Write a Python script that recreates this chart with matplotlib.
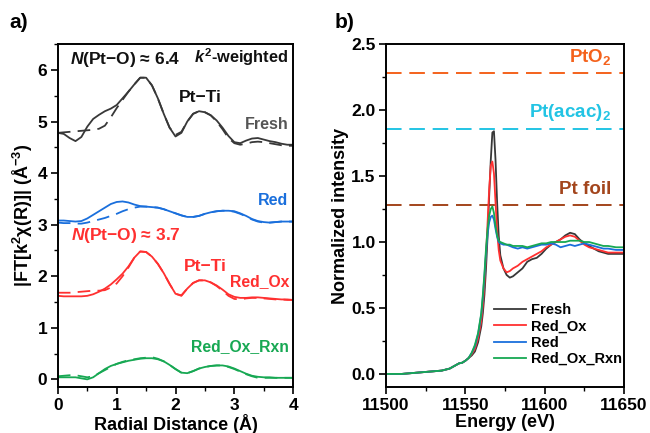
import matplotlib
matplotlib.use("Agg")
import matplotlib.pyplot as plt
from matplotlib.ticker import MultipleLocator, FormatStrFormatter

plt.rcParams['font.family'] = ['Liberation Sans', 'DejaVu Sans']
plt.rcParams['font.weight'] = 'bold'
plt.rcParams['mathtext.fontset'] = 'custom'
plt.rcParams['mathtext.rm'] = 'Liberation Sans:bold'
plt.rcParams['mathtext.it'] = 'Liberation Sans:italic:bold'
plt.rcParams['mathtext.bf'] = 'Liberation Sans:bold'

# ---- a) EXAFS, |FT| vs R (offset curves, solid = data, dashed = fit)
r = [round(0.1 * i, 1) for i in range(41)]
fresh = [4.78, 4.76, 4.68, 4.62, 4.70, 4.90, 5.05, 5.13, 5.20, 5.25,
         5.32, 5.45, 5.58, 5.72, 5.85, 5.85, 5.70, 5.45, 5.15, 4.88,
         4.71, 4.78, 5.00, 5.15, 5.20, 5.18, 5.12, 5.02, 4.88, 4.72,
         4.60, 4.58, 4.63, 4.67, 4.68, 4.65, 4.62, 4.60, 4.57, 4.55, 4.55]
fresh_fit = [4.78, 4.79, 4.80, 4.81, 4.82, 4.83, 4.84, 4.86, 4.92, 5.08,
             5.26, 5.42, 5.58, 5.72, 5.85, 5.85, 5.70, 5.45, 5.15, 4.88,
             4.74, 4.80, 5.00, 5.15, 5.20, 5.18, 5.12, 5.00, 4.85, 4.68,
             4.58, 4.55, 4.57, 4.60, 4.61, 4.60, 4.58, 4.56, 4.54, 4.53, 4.53]
red = [3.08, 3.08, 3.07, 3.06, 3.07, 3.12, 3.19, 3.26, 3.33, 3.40,
       3.44, 3.45, 3.43, 3.39, 3.36, 3.35, 3.34, 3.33, 3.30, 3.26,
       3.22, 3.18, 3.15, 3.15, 3.17, 3.21, 3.24, 3.26, 3.27, 3.27,
       3.26, 3.22, 3.17, 3.11, 3.07, 3.05, 3.04, 3.05, 3.06, 3.06, 3.06]
red_fit = [3.04, 3.03, 3.03, 3.02, 3.02, 3.04, 3.07, 3.10, 3.13, 3.17,
           3.21, 3.26, 3.30, 3.33, 3.35, 3.35, 3.34, 3.33, 3.30, 3.26,
           3.22, 3.18, 3.15, 3.15, 3.17, 3.21, 3.24, 3.26, 3.27, 3.27,
           3.25, 3.21, 3.16, 3.10, 3.06, 3.04, 3.04, 3.05, 3.06, 3.06, 3.06]
red_ox = [1.62, 1.61, 1.61, 1.61, 1.61, 1.62, 1.65, 1.70, 1.76, 1.84,
          1.94, 2.05, 2.19, 2.36, 2.48, 2.47, 2.38, 2.24, 2.06, 1.85,
          1.66, 1.62, 1.76, 1.87, 1.92, 1.92, 1.88, 1.82, 1.74, 1.65,
          1.60, 1.58, 1.58, 1.59, 1.59, 1.58, 1.57, 1.56, 1.55, 1.55, 1.54]
red_ox_fit = [1.68, 1.68, 1.68, 1.69, 1.70, 1.71, 1.72, 1.72, 1.73, 1.78,
              1.86, 2.00, 2.17, 2.36, 2.48, 2.47, 2.38, 2.24, 2.06, 1.85,
              1.66, 1.63, 1.76, 1.87, 1.92, 1.92, 1.88, 1.81, 1.72, 1.62,
              1.56, 1.55, 1.57, 1.58, 1.58, 1.57, 1.56, 1.55, 1.55, 1.54, 1.54]
rxn = [0.04, 0.04, 0.04, 0.04, 0.02, 0.00, 0.04, 0.12, 0.20, 0.26,
       0.30, 0.33, 0.36, 0.38, 0.40, 0.41, 0.41, 0.39, 0.35, 0.28,
       0.20, 0.13, 0.12, 0.16, 0.21, 0.24, 0.26, 0.27, 0.27, 0.25,
       0.21, 0.16, 0.11, 0.07, 0.05, 0.04, 0.04, 0.03, 0.03, 0.03, 0.03]
rxn_fit = [0.06, 0.07, 0.08, 0.08, 0.06, 0.04, 0.06, 0.12, 0.18, 0.24,
           0.30, 0.34, 0.37, 0.39, 0.41, 0.42, 0.43, 0.40, 0.35, 0.28,
           0.20, 0.13, 0.12, 0.16, 0.21, 0.24, 0.26, 0.27, 0.27, 0.24,
           0.20, 0.15, 0.10, 0.06, 0.03, 0.03, 0.03, 0.03, 0.03, 0.03, 0.03]

# ---- b) XANES, normalized intensity vs energy
energy = [11500, 11510, 11520, 11530, 11535, 11540, 11543, 11546, 11548,
          11550, 11552, 11554, 11556, 11558, 11560, 11561, 11562, 11563,
          11564, 11565, 11566, 11567, 11568, 11569, 11570, 11571, 11572,
          11574, 11576, 11578, 11580, 11583, 11586, 11589, 11592, 11595,
          11598, 11601, 11604, 11607, 11610, 11613, 11616, 11619, 11622,
          11625, 11628, 11631, 11634, 11637, 11640, 11645, 11650]
base = [0.00, 0.00, 0.01, 0.02, 0.025, 0.04, 0.06, 0.08, 0.085]
xa_fresh = base + [0.10, 0.12, 0.14, 0.17, 0.24, 0.36, 0.46, 0.60, 0.80,
                   1.05, 1.35, 1.62, 1.83, 1.84, 1.62, 1.30, 1.05, 0.90,
                   0.80, 0.75, 0.73, 0.74, 0.77, 0.80, 0.85, 0.87, 0.88,
                   0.91, 0.95, 0.98, 1.00, 1.02, 1.05, 1.07, 1.06, 1.02,
                   0.99, 0.97, 0.95, 0.93, 0.92, 0.91, 0.91, 0.91]
xa_red_ox = base + [0.10, 0.12, 0.15, 0.19, 0.27, 0.40, 0.52, 0.68, 0.90,
                    1.15, 1.40, 1.58, 1.61, 1.52, 1.30, 1.08, 0.94, 0.86,
                    0.80, 0.77, 0.78, 0.80, 0.82, 0.85, 0.87, 0.89, 0.91,
                    0.93, 0.96, 0.98, 1.00, 1.02, 1.04, 1.05, 1.04, 1.01,
                    0.98, 0.96, 0.95, 0.94, 0.93, 0.92, 0.92, 0.92]
xa_red = base + [0.10, 0.12, 0.16, 0.21, 0.30, 0.45, 0.58, 0.74, 0.92,
                 1.06, 1.15, 1.19, 1.20, 1.17, 1.10, 1.04, 1.00, 0.99,
                 0.98, 0.98, 0.97, 0.96, 0.95, 0.96, 0.95, 0.96, 0.97,
                 0.98, 0.98, 0.99, 0.98, 0.96, 0.97, 0.98, 0.97, 0.98,
                 0.99, 0.98, 0.97, 0.96, 0.95, 0.95, 0.94, 0.94]
xa_rxn = base + [0.10, 0.12, 0.16, 0.22, 0.31, 0.46, 0.60, 0.76, 0.95,
                 1.10, 1.20, 1.25, 1.27, 1.22, 1.12, 1.05, 1.01, 1.00,
                 0.99, 0.98, 0.98, 0.97, 0.97, 0.97, 0.96, 0.97, 0.98,
                 0.99, 0.99, 1.00, 1.00, 1.00, 1.00, 1.01, 1.01, 1.01,
                 1.00, 1.00, 0.99, 0.98, 0.97, 0.97, 0.96, 0.96]
ref_names = ['PtO$_2$', 'Pt(acac)$_2$', 'Pt foil']
ref_levels = [2.28, 1.86, 1.28]

c_fresh = '#383838'
c_red = '#1a6fdc'
c_redox = '#ff3030'
c_rxn = '#17a853'
c_refs = ['#f4621c', '#22c4e4', '#a3451c']

fig = plt.figure(figsize=(6.5, 4.33), dpi=100)
ax1 = fig.add_axes([0.089, 0.106, 0.362, 0.792])
ax2 = fig.add_axes([0.594, 0.106, 0.366, 0.792])

lw = 1.3
for y, yf, c in [(fresh, fresh_fit, c_fresh), (red, red_fit, c_red),
                 (red_ox, red_ox_fit, c_redox), (rxn, rxn_fit, c_rxn)]:
    ax1.plot(r, y, color=c, lw=lw)
    ax1.plot(r, yf, color=c, lw=lw, ls=(0, (7, 4)))

ax1.set_xlim(0, 4)
ax1.set_ylim(-0.15, 6.5)
ax1.xaxis.set_major_locator(MultipleLocator(1))
ax1.xaxis.set_minor_locator(MultipleLocator(0.5))
ax1.yaxis.set_major_locator(MultipleLocator(1))
ax1.yaxis.set_minor_locator(MultipleLocator(0.5))
ax1.set_xlabel('Radial Distance (Å)', fontsize=13, fontweight='bold', labelpad=1)
ax1.set_ylabel('|FT[k$^{\\mathrm{2}}$χ(R)]| (Å$^{\\mathrm{-3}}$)', fontsize=13,
               fontweight='bold', labelpad=2)

fs = 12.5
ax1.text(0.2, 6.2, '$N$(Pt−O) ≈ 6.4', fontsize=fs, va='center', color='#111111')
ax1.text(3.92, 6.24, '$k^{\\mathrm{2}}$-weighted', fontsize=11.8, ha='right',
         va='center', color='#111111')
ax1.text(2.06, 5.46, 'Pt−Ti', fontsize=fs, va='center', color='#111111')
ax1.text(3.92, 4.95, 'Fresh', fontsize=11.5, ha='right', va='center', color='#555555')
ax1.text(3.92, 3.47, 'Red', fontsize=11.5, ha='right', va='center', color=c_red)
ax1.text(0.22, 2.79, '$N$(Pt−O) ≈ 3.7', fontsize=fs, va='center', color=c_redox)
ax1.text(2.14, 2.18, 'Pt−Ti', fontsize=fs, va='center', color=c_redox)
ax1.text(2.93, 1.9, 'Red_Ox', fontsize=11.3, va='center', color=c_redox)
ax1.text(3.92, 0.64, 'Red_Ox_Rxn', fontsize=11.3, ha='right', va='center', color=c_rxn)

for name, lev, c in zip(ref_names, ref_levels, c_refs):
    ax2.axhline(lev, color=c, lw=1.4, ls=(0, (8, 4)))
    ax2.text(11642, lev + 0.12, name, fontsize=13.5, ha='right', va='center', color=c)

ax2.plot(energy, xa_fresh, color=c_fresh, lw=lw, label='Fresh')
ax2.plot(energy, xa_red_ox, color=c_redox, lw=lw, label='Red_Ox')
ax2.plot(energy, xa_red, color=c_red, lw=lw, label='Red')
ax2.plot(energy, xa_rxn, color=c_rxn, lw=lw, label='Red_Ox_Rxn')
ax2.legend(loc='lower left', bbox_to_anchor=(0.43, 0.045), frameon=False,
           fontsize=10.5, handlelength=2.2, handletextpad=0.3, labelspacing=0.15,
           borderaxespad=0)

ax2.set_xlim(11500, 11650)
ax2.set_ylim(-0.1, 2.5)
ax2.xaxis.set_major_locator(MultipleLocator(50))
ax2.xaxis.set_minor_locator(MultipleLocator(25))
ax2.yaxis.set_major_locator(MultipleLocator(0.5))
ax2.yaxis.set_minor_locator(MultipleLocator(0.25))
ax2.yaxis.set_major_formatter(FormatStrFormatter('%.1f'))
ax2.set_xlabel('Energy (eV)', fontsize=13, fontweight='bold', labelpad=1)
ax2.set_ylabel('Normalized intensity', fontsize=13, fontweight='bold', labelpad=2)

for ax in (ax1, ax2):
    for s in ax.spines.values():
        s.set_linewidth(1.4)
    ax.tick_params(which='major', direction='out', length=5, width=1.2,
                   labelsize=12.5, top=False, right=False, pad=2.5)
    ax.tick_params(which='minor', direction='out', length=3, width=1.0,
                   top=False, right=False)
    for lab in ax.get_xticklabels() + ax.get_yticklabels():
        lab.set_fontweight('bold')

fig.text(0.015, 0.935, 'a)', fontsize=15, fontweight='bold')
fig.text(0.515, 0.935, 'b)', fontsize=15, fontweight='bold')

plt.savefig('out.png', dpi=100)
